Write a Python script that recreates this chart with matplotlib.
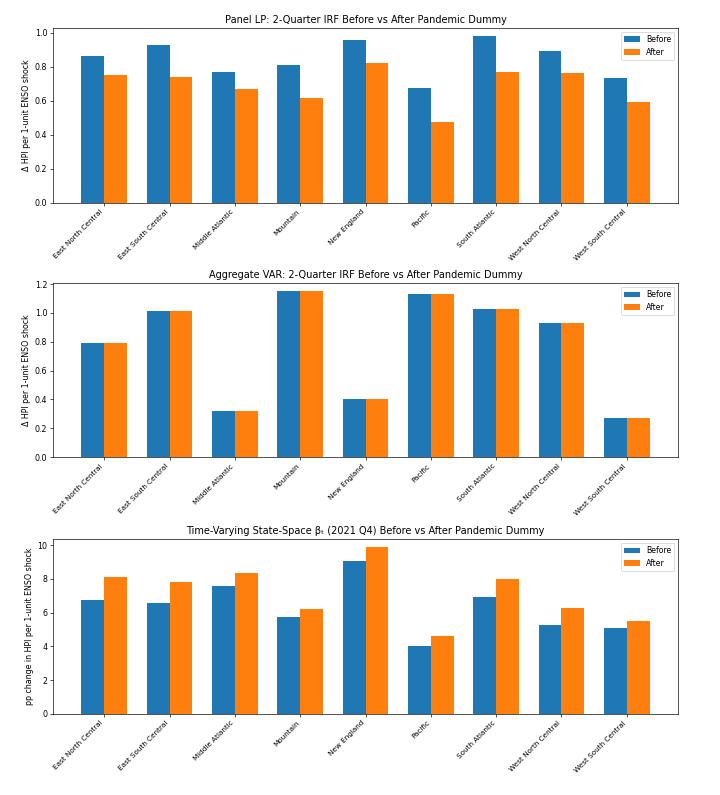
import numpy as np
import matplotlib
matplotlib.use("Agg")
import matplotlib.pyplot as plt

regions = ["East North Central", "East South Central", "Middle Atlantic",
           "Mountain", "New England", "Pacific", "South Atlantic",
           "West North Central", "West South Central"]

# Panel LP
lp_before = [0.865, 0.93, 0.77, 0.81, 0.96, 0.675, 0.98, 0.895, 0.735]
lp_after = [0.75, 0.738, 0.67, 0.615, 0.822, 0.477, 0.77, 0.765, 0.59]

# Aggregate VAR (identical before / after)
var_before = [0.79, 1.01, 0.32, 1.15, 0.40, 1.13, 1.025, 0.93, 0.27]
var_after = [0.79, 1.01, 0.32, 1.15, 0.40, 1.13, 1.025, 0.93, 0.27]

# Time-varying state-space beta
tv_before = [6.75, 6.57, 7.58, 5.75, 9.08, 4.05, 6.9, 5.25, 5.1]
tv_after = [8.1, 7.83, 8.35, 6.22, 9.87, 4.6, 8.0, 6.28, 5.48]

panels = [
    ("Panel LP: 2-Quarter IRF Before vs After Pandemic Dummy",
     "Δ HPI per 1-unit ENSO shock", lp_before, lp_after),
    ("Aggregate VAR: 2-Quarter IRF Before vs After Pandemic Dummy",
     "Δ HPI per 1-unit ENSO shock", var_before, var_after),
    ("Time-Varying State-Space βₜ (2021 Q4) Before vs After Pandemic Dummy",
     "pp change in HPI per 1-unit ENSO shock", tv_before, tv_after),
]

# axes boxes (bottom, top) in figure fractions
boxes = [(0.745, 0.965), (0.425, 0.644), (0.102, 0.322)]

fig, axes = plt.subplots(3, 1, figsize=(12, 13.25), dpi=60)
x = np.arange(len(regions))
width = 0.35

for ax, box, (title, ylabel, before, after) in zip(axes, boxes, panels):
    ax.set_position([0.0736, box[0], 0.9417 - 0.0736, box[1] - box[0]])
    ax.bar(x - width / 2, before, width, label="Before")
    ax.bar(x + width / 2, after, width, label="After")
    ax.set_xticks(x)
    ax.set_xticklabels(regions, rotation=45, ha="right", fontsize=8.7)
    ax.tick_params(axis="y", labelsize=9.5)
    ax.set_ylabel(ylabel, fontsize=9.5)
    ax.set_title(title, fontsize=11.7)
    ax.legend(fontsize=9.3)

plt.savefig("out.png", dpi=60)
